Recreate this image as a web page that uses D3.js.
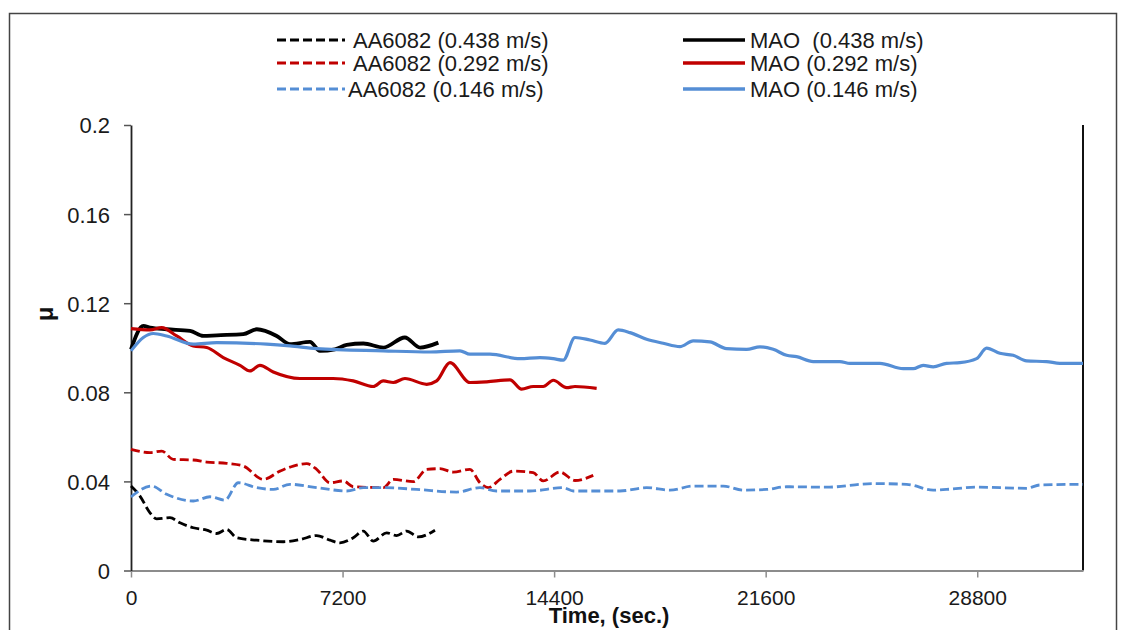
<!DOCTYPE html>
<html>
<head>
<meta charset="utf-8">
<script src="https://cdn.jsdelivr.net/npm/d3@7"></script>
<style>
  html, body { margin: 0; padding: 0; background: #fff; }
  svg { display: block; font-family: "Liberation Sans", Arial, sans-serif; }
</style>
</head>
<body>
<svg id="chart" width="1123" height="630"></svg>
<script>
// Friction coefficient vs sliding time, AA6082 substrate and MAO coating at three speeds

const xTicks = [0, 7200, 14400, 21600, 28800];
const yTicks = [0, 0.04, 0.08, 0.12, 0.16, 0.2];
const yTickLabels = ["0", "0.04", "0.08", "0.12", "0.16", "0.2"];

// time (s)
const tAA438 = [0, 306, 647, 875, 1327, 1668, 2120, 2576, 2916, 3257, 3597, 4277, 5183, 5751, 6319, 6772, 7112, 7565, 7905, 8245, 8701, 9041, 9382, 9777, 10346];
const muAA438 = [0.0379, 0.0334, 0.0259, 0.0232, 0.0237, 0.0214, 0.0192, 0.0181, 0.0166, 0.0184, 0.0147, 0.0136, 0.0129, 0.0139, 0.0157, 0.0136, 0.0124, 0.0147, 0.0177, 0.0132, 0.0169, 0.0157, 0.0177, 0.0151, 0.0181];

const tAA292 = [0, 647, 1045, 1439, 2120, 2576, 3257, 3822, 4502, 5070, 5523, 5979, 6319, 6772, 7225, 7565, 8586, 8926, 9607, 10063, 10515, 10968, 11536, 11876, 12159, 12557, 13010, 13690, 14030, 14599, 15109, 15732];
const muAA292 = [0.0544, 0.0529, 0.0536, 0.0499, 0.0496, 0.0487, 0.0481, 0.0469, 0.0409, 0.0446, 0.0469, 0.0480, 0.0454, 0.0394, 0.0402, 0.0376, 0.0372, 0.0409, 0.0399, 0.0454, 0.0457, 0.0442, 0.0454, 0.0394, 0.0372, 0.0409, 0.0446, 0.0439, 0.0402, 0.0442, 0.0404, 0.0427];

const tAA146 = [0, 704, 1215, 2120, 2688, 3199, 3651, 4277, 4842, 5410, 6319, 7340, 7905, 8586, 9722, 11083, 11876, 12444, 13578, 14711, 15052, 16641, 17549, 18342, 19135, 20156, 20836, 21632, 22313, 23674, 25260, 26397, 27302, 27758, 28779, 30480, 30933, 32400];
const muAA146 = [0.0331, 0.0379, 0.0342, 0.0312, 0.0331, 0.0316, 0.0394, 0.0372, 0.0364, 0.0387, 0.0372, 0.0357, 0.0372, 0.0372, 0.0364, 0.0352, 0.0372, 0.0357, 0.0357, 0.0372, 0.0357, 0.0357, 0.0372, 0.0361, 0.0379, 0.0379, 0.0361, 0.0364, 0.0376, 0.0374, 0.0390, 0.0387, 0.0361, 0.0364, 0.0374, 0.0369, 0.0384, 0.0387];

const tMAO438 = [0, 420, 650, 1210, 2010, 2460, 2920, 3820, 4280, 4960, 5410, 6090, 6430, 6940, 7340, 7910, 8590, 9320, 9840, 10460];
const muMAO438 = [0.0993, 0.1098, 0.1090, 0.1083, 0.1076, 0.1053, 0.1056, 0.1061, 0.1083, 0.1053, 0.1016, 0.1026, 0.0986, 0.0993, 0.1013, 0.1019, 0.1001, 0.1046, 0.1001, 0.1023];

const tMAO292 = [0, 647, 1045, 1555, 2120, 2576, 3141, 3709, 4050, 4390, 4842, 5751, 6884, 7565, 8245, 8586, 8926, 9324, 10063, 10403, 10855, 11536, 12104, 12897, 13295, 13690, 14030, 14370, 14827, 15109, 15848];
const muMAO292 = [0.1086, 0.1080, 0.1090, 0.1053, 0.1008, 0.1001, 0.0956, 0.0921, 0.0896, 0.0921, 0.0891, 0.0862, 0.0862, 0.0851, 0.0826, 0.0851, 0.0844, 0.0862, 0.0836, 0.0851, 0.0933, 0.0844, 0.0847, 0.0856, 0.0814, 0.0826, 0.0826, 0.0854, 0.0821, 0.0826, 0.0818];

const tMAO146 = [0, 419, 759, 1215, 2120, 2916, 4618, 5410, 6319, 8586, 10175, 11196, 11536, 12217, 13237, 13918, 14370, 14711, 15109, 15620, 16130, 16583, 16981, 17549, 18114, 18682, 19135, 19703, 20271, 20952, 21405, 21857, 22313, 22653, 23218, 24127, 24467, 25488, 26281, 26621, 26962, 27302, 27758, 28210, 28779, 29119, 29572, 30024, 30480, 31161, 31613, 32400];
const muMAO146 = [0.0986, 0.1046, 0.1064, 0.1053, 0.1016, 0.1023, 0.1016, 0.1008, 0.0996, 0.0986, 0.0981, 0.0986, 0.0971, 0.0971, 0.0951, 0.0956, 0.0951, 0.0944, 0.1046, 0.1035, 0.1020, 0.1080, 0.1068, 0.1038, 0.1020, 0.1005, 0.1031, 0.1026, 0.0996, 0.0993, 0.1004, 0.0993, 0.0966, 0.0960, 0.0938, 0.0938, 0.0930, 0.0930, 0.0906, 0.0906, 0.0921, 0.0914, 0.0930, 0.0933, 0.0951, 0.0998, 0.0975, 0.0966, 0.0941, 0.0938, 0.0930, 0.0930];

const seriesNames = ["AA6082 (0.438 m/s)", "AA6082 (0.292 m/s)", "AA6082 (0.146 m/s)",
                     "MAO  (0.438 m/s)", "MAO (0.292 m/s)", "MAO (0.146 m/s)"];
const seriesColors = ["#000000", "#c00000", "#558ed5", "#000000", "#c00000", "#558ed5"];
const seriesWidths = [2.8, 2.8, 2.8, 3.8, 3.2, 3.2];

const series = [
  { name: seriesNames[0], t: tAA438, mu: muAA438, color: seriesColors[0], width: seriesWidths[0], dashed: true },
  { name: seriesNames[1], t: tAA292, mu: muAA292, color: seriesColors[1], width: seriesWidths[1], dashed: true },
  { name: seriesNames[2], t: tAA146, mu: muAA146, color: seriesColors[2], width: seriesWidths[2], dashed: true },
  { name: seriesNames[3], t: tMAO438, mu: muMAO438, color: seriesColors[3], width: seriesWidths[3], dashed: false },
  { name: seriesNames[4], t: tMAO292, mu: muMAO292, color: seriesColors[4], width: seriesWidths[4], dashed: false },
  { name: seriesNames[5], t: tMAO146, mu: muMAO146, color: seriesColors[5], width: seriesWidths[5], dashed: false }
];

const svg = d3.select("#chart");

// outer frame
svg.append("rect")
  .attr("x", 9.5).attr("y", 13.5).attr("width", 1107).attr("height", 640)
  .attr("fill", "none").attr("stroke", "#444").attr("stroke-width", 1.5);

const plot = { left: 131, right: 1083, top: 125, bottom: 570.5 };

const x = d3.scaleLinear().domain([0, 32400]).range([plot.left, plot.right]);
const y = d3.scaleLinear().domain([0, 0.2]).range([plot.bottom, plot.top]);

// right border of plot area
svg.append("line")
  .attr("x1", plot.right).attr("x2", plot.right)
  .attr("y1", plot.top).attr("y2", plot.bottom)
  .attr("stroke", "#111").attr("stroke-width", 2);

// x axis
const xAxis = svg.append("g")
  .attr("transform", `translate(0,${plot.bottom})`)
  .call(d3.axisBottom(x).tickValues(xTicks).tickSize(7).tickSizeOuter(0).tickFormat(d3.format("d")));
xAxis.select(".domain").attr("stroke", "#8c8c8c").attr("stroke-width", 1.8);
xAxis.selectAll(".tick line").attr("stroke", "#8c8c8c").attr("stroke-width", 1.5);
xAxis.selectAll(".tick text")
  .attr("font-size", 21).attr("fill", "#1a1a1a").attr("y", 20).attr("dy", "0.71em");

// y axis
const yAxis = svg.append("g")
  .attr("transform", `translate(${plot.left},0)`)
  .call(d3.axisLeft(y).tickValues(yTicks).tickSize(7).tickSizeOuter(0)
    .tickFormat((d, i) => yTickLabels[i]));
yAxis.select(".domain").attr("stroke", "#222").attr("stroke-width", 1.8);
yAxis.selectAll(".tick line").attr("stroke", "#555").attr("stroke-width", 1.5);
yAxis.selectAll(".tick text")
  .attr("font-size", 22).attr("fill", "#1a1a1a").attr("x", -21).attr("dy", "0.36em");

// series lines
const line = d3.line()
  .x(d => x(d[0]))
  .y(d => y(d[1]))
  .curve(d3.curveMonotoneX);

const linesG = svg.append("g");
series.forEach(s => {
  const pts = s.t.map((t, i) => [t, s.mu[i]]);
  linesG.append("path")
    .datum(pts)
    .attr("d", line)
    .attr("fill", "none")
    .attr("stroke", s.color)
    .attr("stroke-width", s.width)
    .attr("stroke-dasharray", s.dashed ? "9,4" : null)
    .attr("stroke-linejoin", "round");
});

// axis titles
svg.append("text")
  .attr("x", 609).attr("y", 623)
  .attr("text-anchor", "middle")
  .attr("font-size", 22).attr("font-weight", "bold").attr("fill", "#111")
  .text("Time, (sec.)");

svg.append("text")
  .attr("transform", "translate(53,314) rotate(-90)")
  .attr("text-anchor", "middle")
  .attr("font-size", 24).attr("font-weight", "bold").attr("fill", "#111")
  .text("μ");

// legend: two columns, three rows
const legendRows = [40, 63, 89];
const legendCols = [
  { x1: 277, x2: 345, tx: [353, 353, 348] },
  { x1: 683, x2: 745, tx: [750, 750, 750] }
];
series.forEach((s, i) => {
  const col = legendCols[Math.floor(i / 3)];
  const row = i % 3;
  const yy = legendRows[row];
  svg.append("line")
    .attr("x1", col.x1).attr("x2", col.x2)
    .attr("y1", yy).attr("y2", yy)
    .attr("stroke", s.color)
    .attr("stroke-width", s.dashed ? 2.8 : 3.4)
    .attr("stroke-dasharray", s.dashed ? "9,4" : null);
  svg.append("text")
    .attr("x", col.tx[row]).attr("y", yy)
    .attr("dy", "0.36em")
    .attr("font-size", 22).attr("fill", "#1a1a1a")
    .attr("xml:space", "preserve")
    .style("white-space", "pre")
    .text(s.name);
});
</script>
</body>
</html>
